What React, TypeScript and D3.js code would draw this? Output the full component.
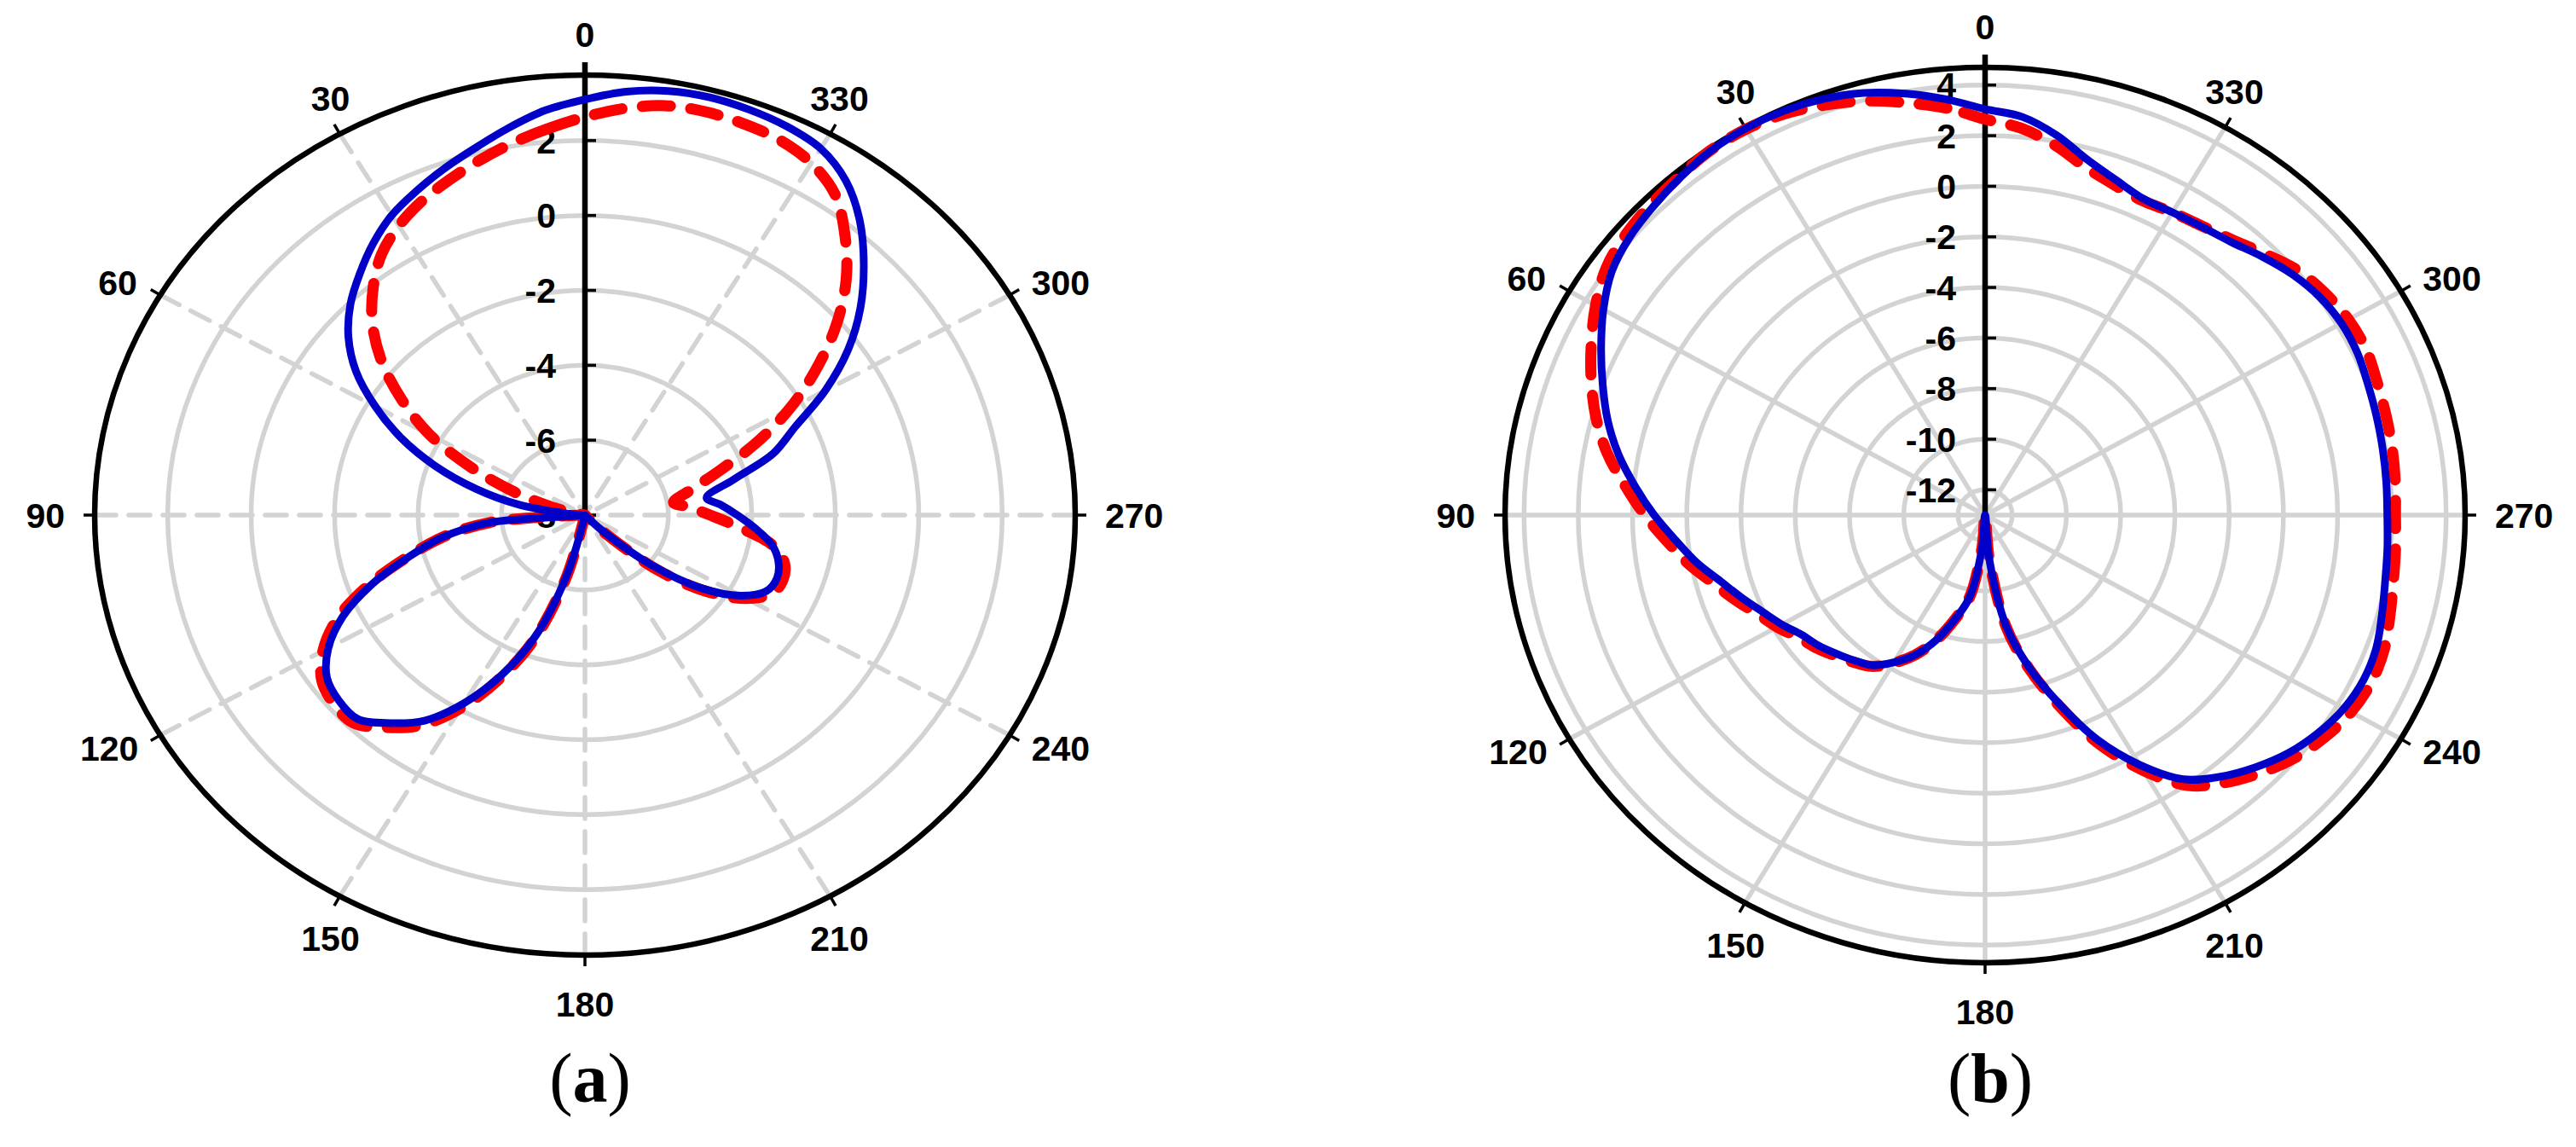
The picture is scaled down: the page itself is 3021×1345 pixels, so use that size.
import React from 'react';
import * as d3 from 'd3';

// ---------- data ----------
const angleLabels = [0, 30, 60, 90, 120, 150, 180, 210, 240, 270, 300, 330];
const ringTicksA = [2, 0, -2, -4, -6, -8];
const ringTicksB = [4, 2, 0, -2, -4, -6, -8, -10, -12];

const anglesA = [0, 5, 10, 15, 20, 25, 30, 35, 40, 45, 50, 55, 60, 65, 70, 75, 80, 85, 90, 95, 100, 105, 110, 115, 120, 125, 130, 135, 140, 145, 150, 155, 160, 165, 170, 180, 190, 200, 210, 220, 225, 230, 235, 240, 245, 250, 255, 260, 265, 270, 275, 279, 285, 290, 295, 300, 305, 310, 315, 320, 325, 330, 335, 340, 345, 350, 355];
const blueA = [3.1, 2.85, 2.5, 2.15, 1.85, 1.55, 1.25, 0.85, 0.4, -0.05, -0.6, -1.3, -2.2, -3.15, -4.2, -5.3, -6.4, -7.6, -7.9, -5.7, -4.5, -3.6, -2.55, -1.6, -0.9, -0.45, -0.3, -0.3, -0.75, -1.3, -2.2, -3.3, -4.6, -6.4, -8.5, -9, -9, -9, -9, -8.6, -7.4, -5.95, -4.6, -3.7, -3.2, -3.1, -3.2, -3.45, -3.9, -4.35, -4.75, -5.05, -4.3, -3.2, -2.45, -1.35, -0.3, 0.62, 1.45, 2.25, 2.9, 3.3, 3.45, 3.52, 3.55, 3.5, 3.35];
const redA = [2.63, 2.35, 2.08, 1.8, 1.52, 1.25, 0.92, 0.5, -0.1, -0.8, -1.65, -2.65, -3.7, -5.0, -6.2, -7.2, -7.9, -8.3, -7.9, -5.7, -4.5, -3.55, -2.45, -1.45, -0.75, -0.3, -0.15, -0.15, -0.6, -1.15, -2.05, -3.2, -4.5, -6.3, -8.5, -9, -9, -9, -9, -8.6, -7.3, -5.7, -4.45, -3.55, -3.05, -2.95, -3.05, -3.45, -4.3, -5.0, -5.5, -5.85, -5.35, -4.6, -3.5, -2.35, -1.25, -0.15, 0.85, 1.7, 2.45, 2.85, 3.05, 3.12, 3.15, 3.1, 2.9];

const anglesB = [0, 5, 10, 15, 20, 25, 30, 35, 40, 45, 50, 55, 60, 65, 70, 75, 80, 85, 90, 95, 100, 105, 110, 115, 120, 125, 130, 135, 140, 145, 150, 155, 160, 165, 170, 175, 180, 185, 190, 195, 200, 205, 210, 215, 220, 225, 230, 235, 240, 245, 250, 255, 260, 265, 270, 275, 280, 285, 290, 295, 300, 305, 310, 315, 320, 325, 330, 335, 340, 345, 350, 355];
const blueB = [3.05, 3.5, 3.92, 4.28, 4.5, 4.62, 4.65, 4.6, 4.45, 4.28, 4.1, 3.8, 3.25, 2.62, 2.0, 1.4, 0.72, -0.05, -0.8, -1.55, -2.2, -2.9, -3.45, -3.95, -4.35, -4.75, -4.98, -5.25, -5.5, -5.75, -6.28, -6.9, -7.75, -8.75, -9.7, -11.7, -13, -11.3, -8.56, -6.8, -5.1, -3.2, -1.6, -0.25, 0.5, 1.1, 1.62, 2.0, 2.28, 2.4, 2.35, 2.15, 1.98, 1.89, 1.83, 1.85, 1.89, 1.95, 2.03, 2.15, 2.17, 2.05, 1.8, 1.45, 1.1, 0.92, 0.82, 0.8, 1.1, 1.55, 2.24, 2.8];
const redB = [2.65, 3.15, 3.55, 3.95, 4.25, 4.5, 4.62, 4.62, 4.5, 4.4, 4.28, 4.05, 3.58, 3.02, 2.45, 1.85, 1.15, 0.32, -0.45, -1.22, -1.9, -2.62, -3.2, -3.75, -4.15, -4.58, -4.85, -5.15, -5.42, -5.7, -6.25, -6.9, -7.75, -8.75, -9.7, -11.7, -13, -11.3, -8.5, -6.7, -4.95, -3.0, -1.35, 0.05, 0.8, 1.4, 1.92, 2.3, 2.58, 2.7, 2.65, 2.45, 2.28, 2.19, 2.13, 2.18, 2.24, 2.3, 2.38, 2.5, 2.47, 2.3, 2.05, 1.6, 1.2, 0.95, 0.82, 0.72, 0.9, 1.25, 1.85, 2.35];

// ---------- drawing ----------
const FONT = '"Liberation Sans", Arial, Helvetica, sans-serif';
const GRID = '#d3d3d3';

type PolarProps = {
  cx: number; cy: number; rx: number; ry: number;
  domain: [number, number]; ticks: number[]; dashedSpokes: boolean;
  angles: number[]; blue: number[]; red: number[]; caption: string;
};

function Polar({ cx, cy, rx, ry, domain, ticks, dashedSpokes, angles, blue, red, caption }: PolarProps) {
  const r = d3.scaleLinear().domain(domain).range([0, 1]).clamp(true);
  const pt = (deg: number, v: number): [number, number] => {
    const t = (deg * Math.PI) / 180;
    const k = r(v);
    return [cx - rx * k * Math.sin(t), cy - ry * k * Math.cos(t)];
  };
  const line = d3.line().curve(d3.curveCatmullRomClosed.alpha(0.5));
  const blueD = line(angles.map((a, i) => pt(a, blue[i]))) || '';
  const redD = line(angles.map((a, i) => pt(a, red[i]))) || '';
  const fs = 41;
  const capHalf = fs * 0.358;

  return (
    <g>
      {/* rings */}
      {ticks.filter((v) => r(v) > 0).map((v) => (
        <ellipse key={'ring' + v} cx={cx} cy={cy} rx={rx * r(v)} ry={ry * r(v)} fill="none" stroke={GRID} strokeWidth={5.5} />
      ))}
      {/* spokes */}
      {angleLabels.filter((a) => a !== 0).map((a) => {
        const t = (a * Math.PI) / 180;
        return (
          <line key={'sp' + a} x1={cx - rx * Math.sin(t)} y1={cy - ry * Math.cos(t)} x2={cx} y2={cy}
            stroke={GRID} strokeWidth={5.5}
            strokeDasharray={dashedSpokes ? '25 15' : undefined}
            strokeLinecap={dashedSpokes ? 'round' : 'butt'} />
        );
      })}
      {/* outer ellipse */}
      <ellipse cx={cx} cy={cy} rx={rx} ry={ry} fill="none" stroke="#000" strokeWidth={6.5} />
      {/* angle ticks */}
      {angleLabels.filter((a) => a !== 0).map((a) => {
        const t = (a * Math.PI) / 180;
        const dx = -Math.sin(t), dy = -Math.cos(t);
        return (
          <line key={'at' + a} x1={cx + dx * rx} y1={cy + dy * ry} x2={cx + dx * (rx + 13)} y2={cy + dy * (ry + 13)}
            stroke="#000" strokeWidth={3.5} />
        );
      })}
      {/* radial axis */}
      <line x1={cx} y1={cy} x2={cx} y2={cy - ry - 15} stroke="#000" strokeWidth={6.5} />
      {ticks.map((v) => (
        <line key={'tk' + v} x1={cx} x2={cx + 13} y1={cy - ry * r(v)} y2={cy - ry * r(v)} stroke="#000" strokeWidth={3.5} />
      ))}
      {ticks.map((v) => (
        <text key={'tl' + v} x={cx - 34} y={cy - ry * r(v) + capHalf} textAnchor="end"
          fontFamily={FONT} fontWeight="bold" fontSize={fs} fill="#000">{v}</text>
      ))}
      {/* angle labels */}
      {angleLabels.map((a) => {
        const t = (a * Math.PI) / 180;
        const dx = -Math.sin(t), dy = -Math.cos(t);
        const label = String(a);
        const halfW = label.length * 0.556 * fs / 2;
        const ox = Math.abs(dx) < 0.01 ? 0 : Math.abs(dx) > 0.7 ? 35 + halfW : 22;
        const oy = Math.abs(dy) < 0.01 ? 0 : Math.abs(dy) > 0.7 ? (dy < 0 ? 48 : 57) : 30;
        return (
          <text key={'al' + a} x={cx + dx * (rx + ox)} y={cy + dy * (ry + oy) + capHalf} textAnchor="middle"
            fontFamily={FONT} fontWeight="bold" fontSize={fs} fill="#000">{label}</text>
        );
      })}
      {/* series */}
      <path d={redD} fill="none" stroke="#ff0000" strokeWidth={13} strokeDasharray="33 24" strokeLinecap="round" strokeLinejoin="round" />
      <path d={blueD} fill="none" stroke="#0000c8" strokeWidth={9} strokeLinejoin="round" />
      {/* caption */}
      <text x={cx + 6} y={1292} textAnchor="middle" fontFamily='"Liberation Serif", "Times New Roman", serif' fontSize={82} fill="#000">
        <tspan>(</tspan><tspan fontWeight="bold">{caption}</tspan><tspan>)</tspan>
      </text>
    </g>
  );
}

export default function App() {
  return (
    <svg width={3021} height={1345} viewBox="0 0 3021 1345"
      style={{ position: 'absolute', left: 0, top: 0, background: '#fff' }}>
      <rect x={0} y={0} width={3021} height={1345} fill="#fff" />
      <Polar cx={686} cy={604} rx={575} ry={516} domain={[-8, 3.75]} ticks={ringTicksA} dashedSpokes={true}
        angles={anglesA} blue={blueA} red={redA} caption="a" />
      <Polar cx={2328} cy={604} rx={563} ry={525} domain={[-13, 4.7]} ticks={ringTicksB} dashedSpokes={false}
        angles={anglesB} blue={blueB} red={redB} caption="b" />
    </svg>
  );
}
